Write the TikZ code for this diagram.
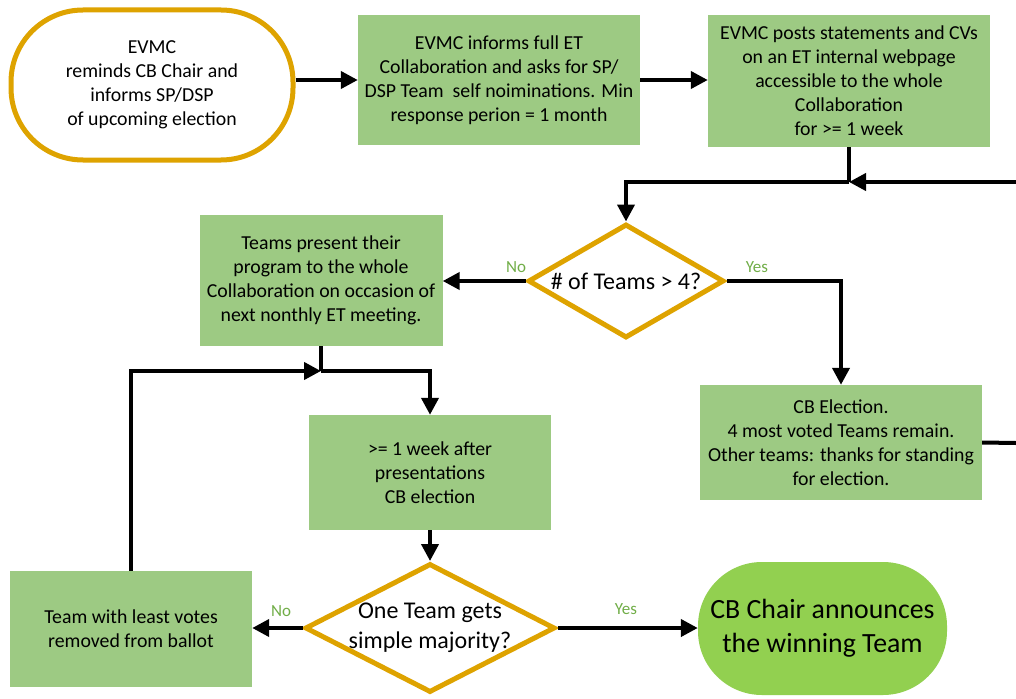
\documentclass[tikz,border=0pt]{standalone}
\usepackage{fontspec}
\setmainfont{Carlito}
\usetikzlibrary{arrows.meta,shapes.geometric}
\definecolor{gold}{RGB}{222,163,0}
\definecolor{boxgreen}{RGB}{157,202,131}
\definecolor{termgreen}{RGB}{146,208,80}
\definecolor{labgreen}{RGB}{112,173,71}

\begin{document}
\begin{tikzpicture}[x=1pt,y=-1pt,
  every node/.style={font=\fontsize{19.8}{24}\selectfont, align=center, inner sep=0pt},
  procbox/.style={rectangle, fill=boxgreen, draw=none},
  startterm/.style={rectangle, draw=gold, fill=white, line width=5pt, rounded corners=72pt},
  endterm/.style={rectangle, draw=none, fill=termgreen, rounded corners=64pt,
    font=\fontsize{27.8}{34}\selectfont},
  decision/.style={diamond, draw=gold, fill=white, line width=5pt},
  dtext/.style={font=\fontsize{24}{30}\selectfont},
  branch/.style={font=\fontsize{17}{18}\selectfont, text=labgreen},
  flow/.style={line width=4pt, line join=miter},
  arr/.style={flow, -{Triangle[length=17pt,width=17pt]}}
]
\useasboundingbox (0,0) rectangle (1016,698);

% top row
\node[startterm, minimum width=282pt, minimum height=150pt] (start) at (152,85)
  {EVMC\\reminds CB Chair and\\informs SP/DSP\\of upcoming election};
\node[procbox, minimum width=282pt, minimum height=130pt] (b2) at (499,80)
  {EVMC informs full ET\\Collaboration and asks for SP/\\DSP Team\ \ self noiminations. Min\\response perion = 1 month};
\node[procbox, minimum width=282pt, minimum height=132pt] (b3) at (849,81)
  {EVMC posts statements and CVs\\on an ET internal webpage\\accessible to the whole\\Collaboration\\for >= 1 week};

% first decision
\node[decision, minimum width=196pt, minimum height=114pt] (d1) at (626,281) {};
\node[dtext] (d1t) at (d1.center) {\# of Teams > 4?};

\node[procbox, minimum width=243pt, minimum height=131pt] (b4) at (321,280.5)
  {Teams present their\\program to the whole\\Collaboration on occasion of\\next nonthly ET meeting.};
\node[procbox, minimum width=282pt, minimum height=115pt] (cbe) at (841,442.5)
  {CB Election.\\4 most voted Teams remain.\\Other teams: thanks for standing\\for election.};
\node[procbox, minimum width=242pt, minimum height=115pt] (b5) at (430,472.5)
  {>= 1 week after\\presentations\\CB election};

% second decision
\node[decision, minimum width=250pt, minimum height=129pt] (d2) at (430,628) {};
\node[dtext] (d2t) at (d2.center) {One Team gets\\simple majority?};

\node[procbox, minimum width=242pt, minimum height=116pt] (b6) at (131,629)
  {Team with least votes\\removed from ballot};
\node[endterm, minimum width=249pt, minimum height=133pt] (end) at (822.5,628.5)
  {CB Chair announces\\the winning Team};

% branch labels
\node[branch] (no1) at (516,267) {No};
\node[branch] (yes1) at (757,267) {Yes};
\node[branch] (no2) at (281,611) {No};
\node[branch] (yes2) at (626,609) {Yes};

% loose ends leaving the page on the right
\coordinate (rin) at (1016,182);
\coordinate (rout) at (1016,443);
\coordinate (j1) at (849,182);
\coordinate (j2) at (321,371);

% connectors
\draw[arr] (start.east |- b2.west) -- (b2.west);
\draw[arr] (b2.east) -- (b3.west |- b2.east);
\draw[flow] (b3.south) -- (j1);
\draw[arr] (j1) -| (d1.north);
\draw[arr] (rin) -- (j1);
\draw[flow] (cbe.east) -- (rout);
\draw[arr] (d1.west) -- (b4.east |- d1.west);
\draw[arr] (d1.east) -| (cbe.north);
\draw[flow] (b4.south) -- (j2);
\draw[arr] (j2) -| (b5.north);
\draw[arr] (b6.north) |- (j2);
\draw[arr] (b5.south) -- (d2.north);
\draw[arr] (d2.west) -- (b6.east |- d2.west);
\draw[arr] (d2.east) -- (end.west |- d2.east);
\end{tikzpicture}
\end{document}
